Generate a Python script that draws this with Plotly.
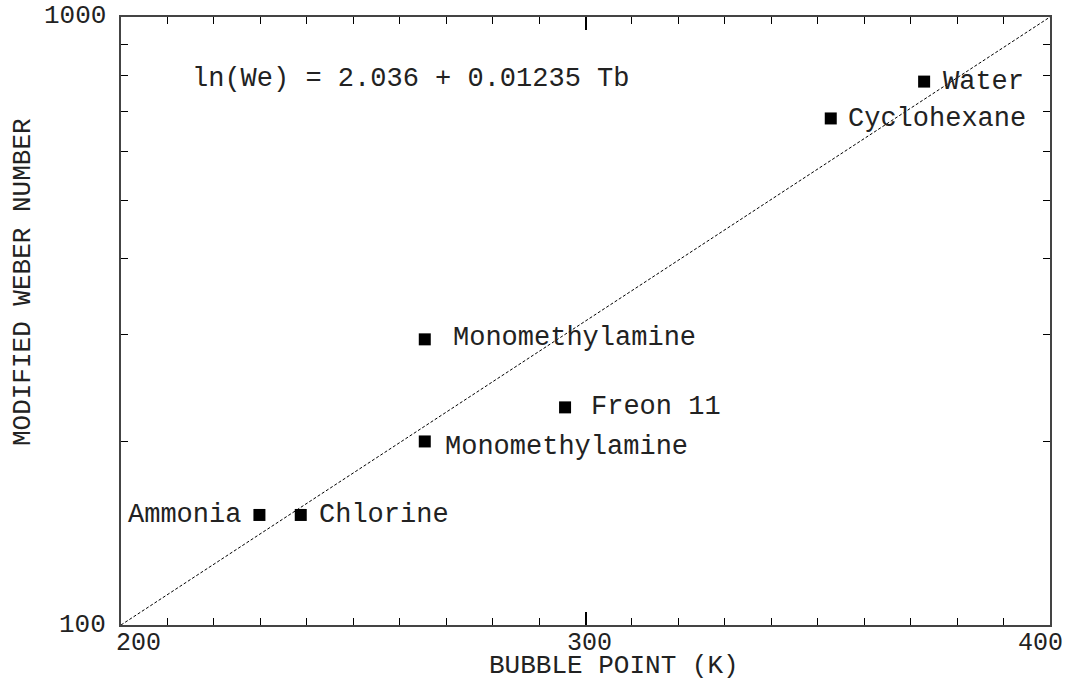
import math
import plotly.graph_objects as go

# ---- data ----
substances = ["Water", "Cyclohexane", "Monomethylamine", "Freon 11",
              "Monomethylamine", "Ammonia", "Chlorine"]
bubble_point = [372.9, 352.8, 265.4, 295.6, 265.4, 229.8, 238.7]
weber = [783, 681, 295, 228, 200.4, 151.7, 151.7]

fit_x = [200, 400]
fit_y = [100, 1000]
equation = "ln(We) = 2.036 + 0.01235 Tb"

x_ticks = [200, 300, 400]
x_tick_labels = ["200", "300", "400"]
y_ticks = [100, 1000]
y_tick_labels = ["100", "1000"]

FONT = "Courier New, Liberation Mono, monospace"
FS = 27
TXT = "#222"

fig = go.Figure()
fig.add_trace(go.Scatter(
    x=fit_x, y=fit_y, mode="lines",
    line=dict(color="black", width=1, dash="3px,2px"),
    hoverinfo="skip", showlegend=False))
fig.add_trace(go.Scatter(
    x=bubble_point, y=weber, mode="markers",
    marker=dict(symbol="square", size=12, color="black"),
    showlegend=False))

# point labels: (xanchor, xshift, yshift)
label_pos = [("left", 18, 0), ("left", 16, -1), ("left", 27, 1),
             ("left", 25, 0), ("left", 19, -6), ("right", -17, 0),
             ("left", 17, 0)]
for name, x, y, (xa, xs, ys) in zip(substances, bubble_point, weber, label_pos):
    fig.add_annotation(x=x, y=math.log10(y), yref="y", xref="x", text=name,
                       showarrow=False, xanchor=xa, yanchor="middle",
                       xshift=xs, yshift=ys, borderpad=0,
                       font=dict(family=FONT, size=FS, color=TXT))

fig.add_annotation(x=(191 - 121) / 929.5, y=(625 - 79) / 608,
                   xref="paper", yref="paper",
                   text=equation, showarrow=False, xanchor="left",
                   yanchor="middle", borderpad=0,
                   font=dict(family=FONT, size=FS, color=TXT))

# tick labels
x_anchor = [("left", -6), ("center", 4), ("right", 14)]
for v, t, (xa, xs) in zip(x_ticks, x_tick_labels, x_anchor):
    fig.add_annotation(x=v, y=(625 - 643) / 608, xref="x", yref="paper",
                       text=t, showarrow=False, xanchor=xa, yanchor="middle",
                       xshift=xs, borderpad=0,
                       font=dict(family=FONT, size=FS - 2, color=TXT))
for v, t, ys in zip(y_ticks, y_tick_labels, [0, 1]):
    fig.add_annotation(x=0, y=math.log10(v), xref="paper", yref="y", text=t,
                       showarrow=False, xanchor="right", yanchor="middle",
                       xshift=-14, yshift=ys, borderpad=0,
                       font=dict(family=FONT, size=FS - 1, color=TXT))

# axis titles
fig.add_annotation(x=(614 - 121) / 929.5, y=(625 - 666) / 608,
                   xref="paper", yref="paper", text="BUBBLE POINT (K)",
                   showarrow=False, xanchor="center", yanchor="middle",
                   borderpad=0, font=dict(family=FONT, size=FS - 1, color=TXT))
fig.add_annotation(x=(23 - 121) / 929.5, y=(625 - 282) / 608,
                   xref="paper", yref="paper", text="MODIFIED WEBER NUMBER",
                   showarrow=False, textangle=-90, xanchor="center",
                   yanchor="middle", borderpad=0,
                   font=dict(family=FONT, size=FS - 1, color=TXT))

fig.update_xaxes(range=[200, 400], showgrid=False, zeroline=False,
                 showline=True, linecolor="#444", linewidth=1.5, mirror="ticks",
                 ticks="inside", ticklen=13, tickwidth=2, tickcolor="black",
                 tickvals=x_ticks, showticklabels=False,
                 minor=dict(ticks="inside", ticklen=7, tickwidth=1,
                            tickcolor="black", dtick=10, showgrid=False))
fig.update_yaxes(type="log", range=[2, 3], showgrid=False, zeroline=False,
                 showline=True, linecolor="#444", linewidth=1.5, mirror="ticks",
                 ticks="inside", ticklen=19, tickwidth=2, tickcolor="black",
                 tickvals=y_ticks, showticklabels=False,
                 minor=dict(ticks="inside", ticklen=7, tickwidth=1,
                            tickcolor="black", dtick="D1", showgrid=False))

fig.update_layout(width=1070, height=681,
                  margin=dict(l=121, r=20, t=17, b=56),
                  plot_bgcolor="white", paper_bgcolor="white",
                  showlegend=False)

fig.write_html("out.html")
